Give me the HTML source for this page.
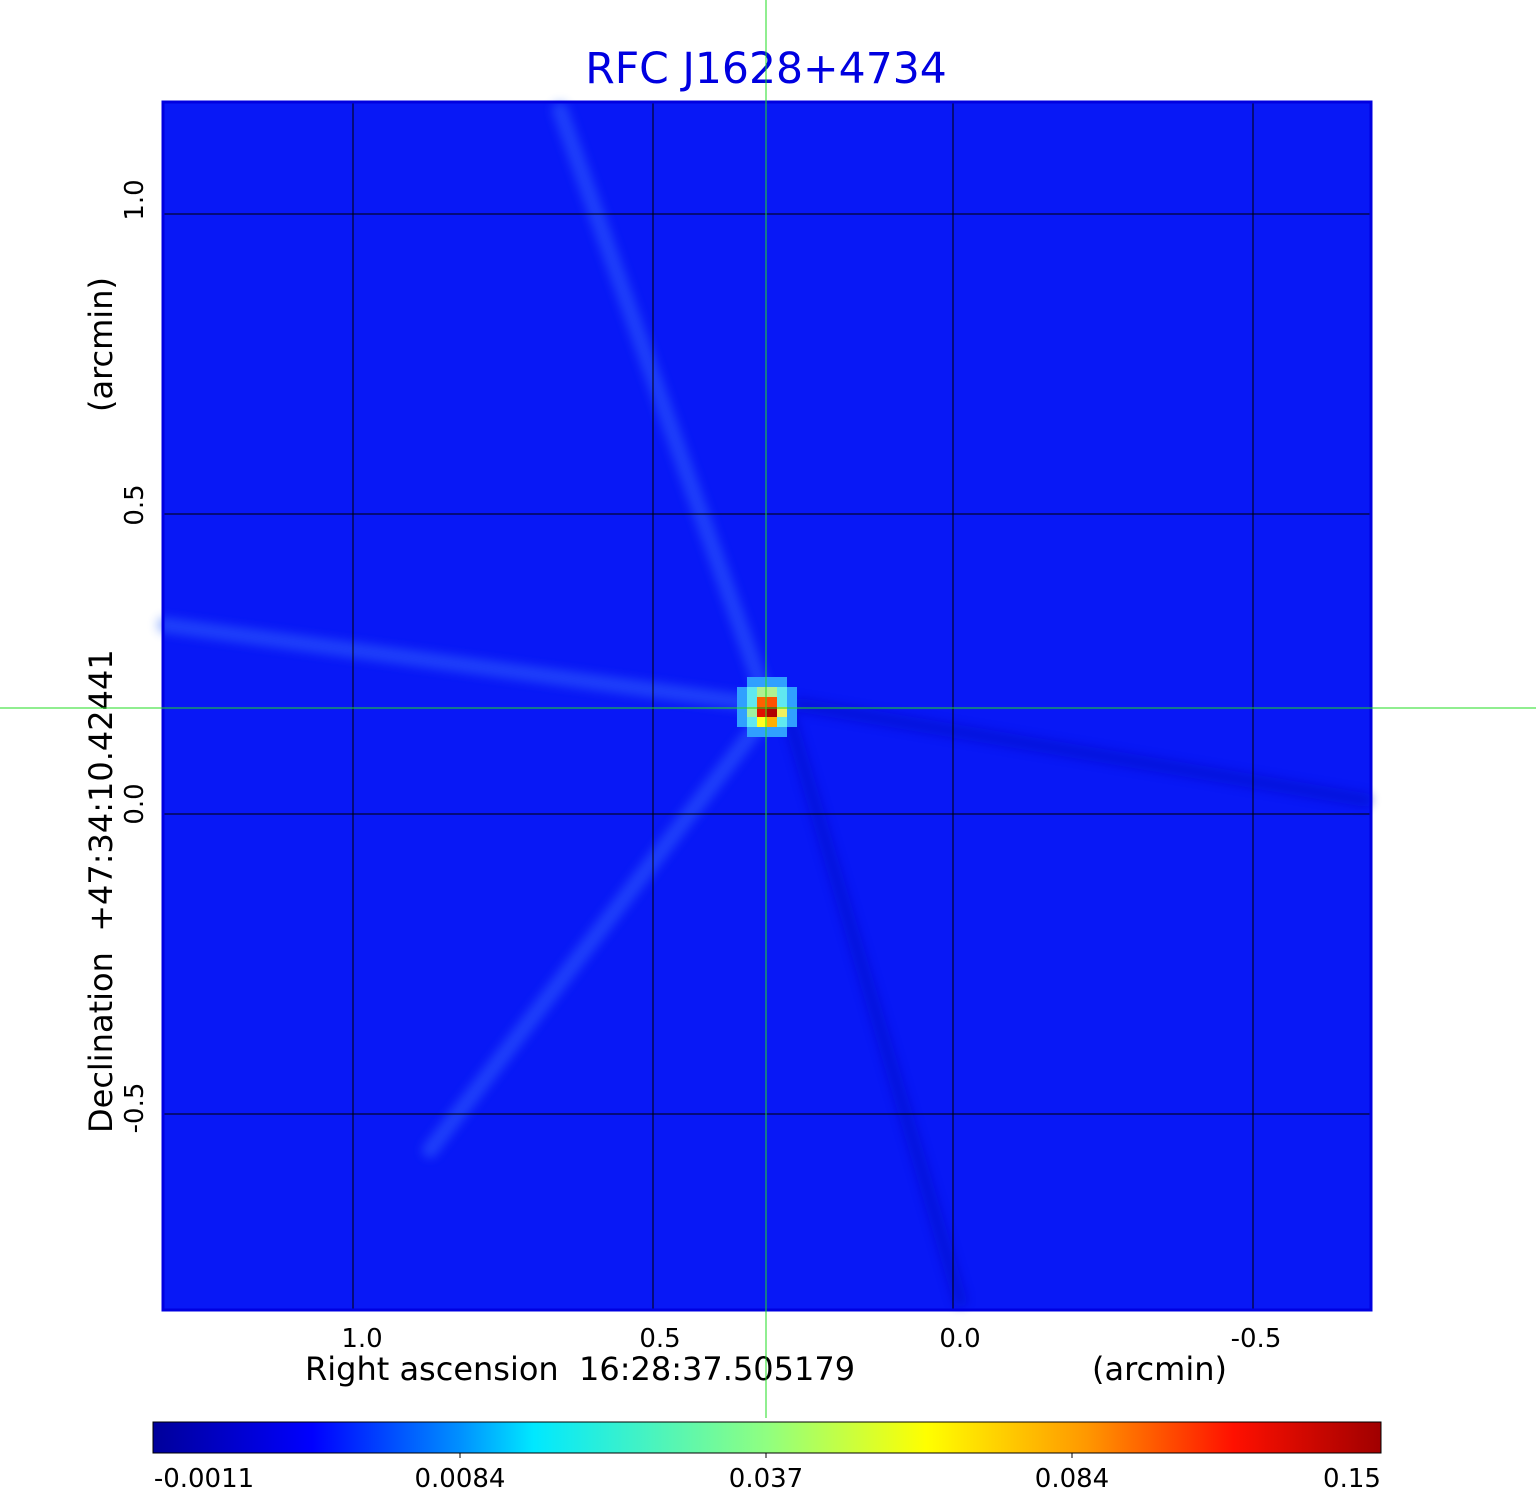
<!DOCTYPE html>
<html><head><meta charset="utf-8"><style>
html,body{margin:0;padding:0;background:#fff;}
svg{display:block;font-family:"DejaVu Sans","Liberation Sans",sans-serif;}
text{white-space:pre;}
</style></head><body>
<svg width="1536" height="1511" viewBox="0 0 1536 1511" xmlns="http://www.w3.org/2000/svg">
<defs>
<linearGradient id="jet" x1="0" x2="1" y1="0" y2="0">
<stop offset="0" stop-color="#00009a"/>
<stop offset="0.13" stop-color="#0000ff"/>
<stop offset="0.25" stop-color="#0090ff"/>
<stop offset="0.31" stop-color="#00e8ff"/>
<stop offset="0.5" stop-color="#90ff80"/>
<stop offset="0.63" stop-color="#ffff00"/>
<stop offset="0.76" stop-color="#ff9800"/>
<stop offset="0.88" stop-color="#ff1000"/>
<stop offset="1" stop-color="#a00000"/>
</linearGradient>
<filter id="bl"><feGaussianBlur stdDeviation="5"/></filter>
</defs>
<text x="766" y="83" text-anchor="middle" font-size="42.5" fill="#0000e0">RFC J1628+4734</text>
<rect x="163" y="102" width="1208" height="1208" fill="#0818f6"/>
<g stroke-linecap="round" fill="none" opacity="0.45" filter="url(#bl)">
<line x1="560" y1="110" x2="766" y2="700" stroke="#3a70ff" stroke-width="16"/>
<line x1="165" y1="625" x2="766" y2="705" stroke="#3a70ff" stroke-width="16"/>
<line x1="766" y1="715" x2="430" y2="1150" stroke="#3a70ff" stroke-width="16"/>
<line x1="790" y1="720" x2="960" y2="1300" stroke="#0008c0" stroke-width="14"/>
<line x1="800" y1="705" x2="1365" y2="800" stroke="#0008c0" stroke-width="14"/>
</g>
<g>
<rect x="747" y="677" width="40" height="60" fill="#30a0ff"/>
<rect x="737" y="687" width="60" height="40" fill="#30a0ff"/>
<rect x="747" y="687" width="40" height="40" fill="#60e8f0"/>
<rect x="757" y="687" width="20" height="10" fill="#b0f090"/>
<rect x="757" y="697" width="10" height="10" fill="#ff6000"/>
<rect x="767" y="697" width="10" height="10" fill="#ff5000"/>
<rect x="757" y="707" width="10" height="10" fill="#e01000"/>
<rect x="767" y="707" width="10" height="10" fill="#b00000"/>
<rect x="757" y="717" width="10" height="10" fill="#ffff20"/>
<rect x="767" y="717" width="10" height="10" fill="#ffb000"/>
<rect x="777" y="707" width="10" height="10" fill="#f0f060"/>
<rect x="747" y="707" width="10" height="10" fill="#a0f0a0"/>
</g>
<g stroke="#000" stroke-width="1">
<line x1="353" y1="102" x2="353" y2="1310"/><line x1="653" y1="102" x2="653" y2="1310"/>
<line x1="953" y1="102" x2="953" y2="1310"/><line x1="1253" y1="102" x2="1253" y2="1310"/>
<line x1="163" y1="214" x2="1371" y2="214"/><line x1="163" y1="514" x2="1371" y2="514"/>
<line x1="163" y1="814" x2="1371" y2="814"/><line x1="163" y1="1114" x2="1371" y2="1114"/>
</g>
<rect x="163" y="102" width="1208" height="1208" fill="none" stroke="#0000e0" stroke-width="3"/>
<g font-size="26" fill="#000">
<text x="362" y="1347" text-anchor="middle">1.0</text>
<text x="660" y="1347" text-anchor="middle">0.5</text>
<text x="960" y="1347" text-anchor="middle">0.0</text>
<text x="1256" y="1347" text-anchor="middle">-0.5</text>
<text transform="translate(143,200) rotate(-90)" text-anchor="middle">1.0</text>
<text transform="translate(143,505) rotate(-90)" text-anchor="middle">0.5</text>
<text transform="translate(143,804) rotate(-90)" text-anchor="middle">0.0</text>
<text transform="translate(143,1108) rotate(-90)" text-anchor="middle">-0.5</text>
</g>
<g font-size="32" fill="#000">
<text x="305" y="1380">Right ascension  16:28:37.505179</text>
<text x="1092" y="1380">(arcmin)</text>
<text transform="translate(112,1133) rotate(-90)">Declination  +47:34:10.42441</text>
<text transform="translate(112,412) rotate(-90)">(arcmin)</text>
</g>
<line x1="766" y1="0" x2="766" y2="1418" stroke="#22dd22" stroke-width="1"/>
<line x1="0" y1="708" x2="1536" y2="708" stroke="#22dd22" stroke-width="1"/>
<rect x="153" y="1422" width="1228" height="31" fill="url(#jet)" stroke="#000" stroke-width="1"/>
<g stroke="#000"><line x1="460" y1="1453" x2="460" y2="1458"/><line x1="766" y1="1453" x2="766" y2="1458"/><line x1="1072" y1="1453" x2="1072" y2="1458"/></g>
<g font-size="26" fill="#000" text-anchor="middle">
<text x="204" y="1487">-0.0011</text>
<text x="460" y="1487">0.0084</text>
<text x="766" y="1487">0.037</text>
<text x="1072" y="1487">0.084</text>
<text x="1352" y="1487">0.15</text>
</g>
</svg>
</body></html>
